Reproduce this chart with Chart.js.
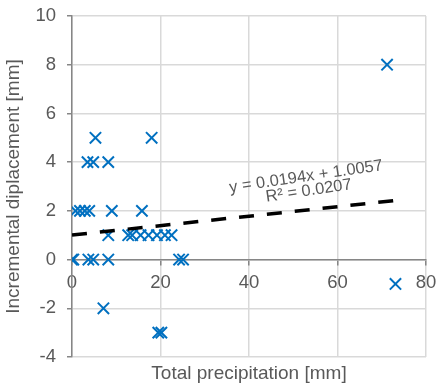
<!DOCTYPE html>
<html>
<head>
<meta charset="utf-8">
<script src="https://cdn.jsdelivr.net/npm/chart.js@4.4.1/dist/chart.umd.min.js"></script>
<style>
  html, body { margin: 0; padding: 0; background: #ffffff; }
  #wrap { width: 436px; height: 385px; }
</style>
</head>
<body>
<div id="wrap"><canvas id="c"></canvas></div>
<script>
// Observed points (Total precipitation [mm], Incremental displacement [mm])
const precipX = [0, 0.3, 3.7, 4.8, 8.2, 24.2, 25.1,
                 0.8, 1.8, 2.9, 3.9, 9.0, 15.8,
                 8.2, 12.7, 13.6, 15.5, 17.3, 19.2, 21.0, 22.5,
                 3.5, 4.8, 8.2,
                 5.3, 18.0,
                 7.1,
                 19.5, 20.2,
                 71.2,
                 73.1];
const displY = [0, 0, 0, 0, 0, 0, 0,
                2, 2, 2, 2, 2, 2,
                1, 1, 1, 1, 1, 1, 1, 1,
                4, 4, 4,
                5, 5,
                -2,
                -3, -3,
                8,
                -1];
// Linear trendline end points (as shown by the chart)
const trendX = [0, 73.3];
const trendY = [1.006, 2.428];
const trendLabel = ['y = 0.0194x + 1.0057', 'R² = 0.0207'];
const xTicks = [0, 20, 40, 60, 80];
const yTicks = [-4, -2, 0, 2, 4, 6, 8, 10];
const xTitle = 'Total precipitation [mm]';
const yTitle = 'Incremental diplacement [mm]';

const grey = '#595959';
const fontTick = { family: 'Liberation Sans, Arial, sans-serif', size: 18.5 };
const fontTitle = { family: 'Liberation Sans, Arial, sans-serif', size: 19 };

function noPad(s) { s.paddingTop = 0; s.paddingBottom = 0; s.paddingLeft = 0; s.paddingRight = 0; }

const labelPlugin = {
  id: 'trendLabel',
  afterDatasetsDraw(chart) {
    const ctx = chart.ctx;
    const xs = chart.scales.x, ys = chart.scales.y;
    const pos = [[52.9, 3.4], [53.5, 2.82]];
    ctx.save();
    ctx.fillStyle = grey;
    ctx.font = '16.5px "Liberation Sans", Arial, sans-serif';
    ctx.textAlign = 'center';
    ctx.textBaseline = 'middle';
    trendLabel.forEach((t, i) => {
      ctx.save();
      ctx.translate(xs.getPixelForValue(pos[i][0]), ys.getPixelForValue(pos[i][1]));
      ctx.rotate(-8.3 * Math.PI / 180);
      ctx.fillText(t, 0, 0);
      ctx.restore();
    });
    ctx.restore();
  }
};

new Chart(document.getElementById('c'), {
  type: 'scatter',
  data: {
    datasets: [
      {
        label: 'Trend',
        type: 'line',
        data: trendX.map((x, i) => ({ x, y: trendY[i] })),
        borderColor: '#000000',
        borderWidth: 3.5,
        borderDash: [15, 13],
        pointRadius: 0,
        fill: false,
        order: 0
      },
      {
        label: 'Data',
        data: precipX.map((x, i) => ({ x, y: displY[i] })),
        pointStyle: 'crossRot',
        pointRadius: 8,
        pointHoverRadius: 8,
        borderColor: '#0070C0',
        backgroundColor: '#0070C0',
        borderWidth: 2,
        order: 1
      }
    ]
  },
  options: {
    responsive: true,
    maintainAspectRatio: false,
    animation: false,
    layout: { padding: { top: 16, right: 9, left: 0, bottom: 0 } },
    plugins: { legend: { display: false }, tooltip: { enabled: false } },
    scales: {
      x: {
        type: 'linear',
        position: { y: 0 },
        min: 0, max: 80,
        afterBuildTicks(s) { s.ticks = xTicks.map(v => ({ value: v })); },
        afterFit: noPad,
        grid: { color: '#d9d9d9', lineWidth: 1.5, drawTicks: true, tickLength: 5, tickColor: '#868686' },
        border: { color: '#868686', width: 1.5 },
        ticks: { color: grey, font: fontTick, padding: 7, maxRotation: 0 }
      },
      xt: {
        type: 'linear',
        position: 'bottom',
        min: 0, max: 80,
        grid: { display: false, drawTicks: false },
        border: { display: false },
        ticks: { display: false },
        title: { display: true, text: xTitle, color: grey, font: fontTitle, padding: { top: 0, bottom: 0 } },
        afterFit(s) { s.height = 28; noPad(s); }
      },
      y: {
        type: 'linear',
        position: 'left',
        min: -4, max: 10,
        afterBuildTicks(s) { s.ticks = yTicks.map(v => ({ value: v })); },
        grid: { color: '#d9d9d9', lineWidth: 1.5, drawTicks: true, tickLength: 5, tickColor: '#868686' },
        border: { color: '#868686', width: 1.5 },
        ticks: { color: grey, font: fontTick, padding: 11 },
        title: { display: true, text: yTitle, color: grey, font: fontTitle, padding: { top: 2, bottom: 0 } },
        afterFit(s) { s.width = 72; noPad(s); }
      }
    }
  },
  plugins: [labelPlugin]
});
</script>
</body>
</html>
